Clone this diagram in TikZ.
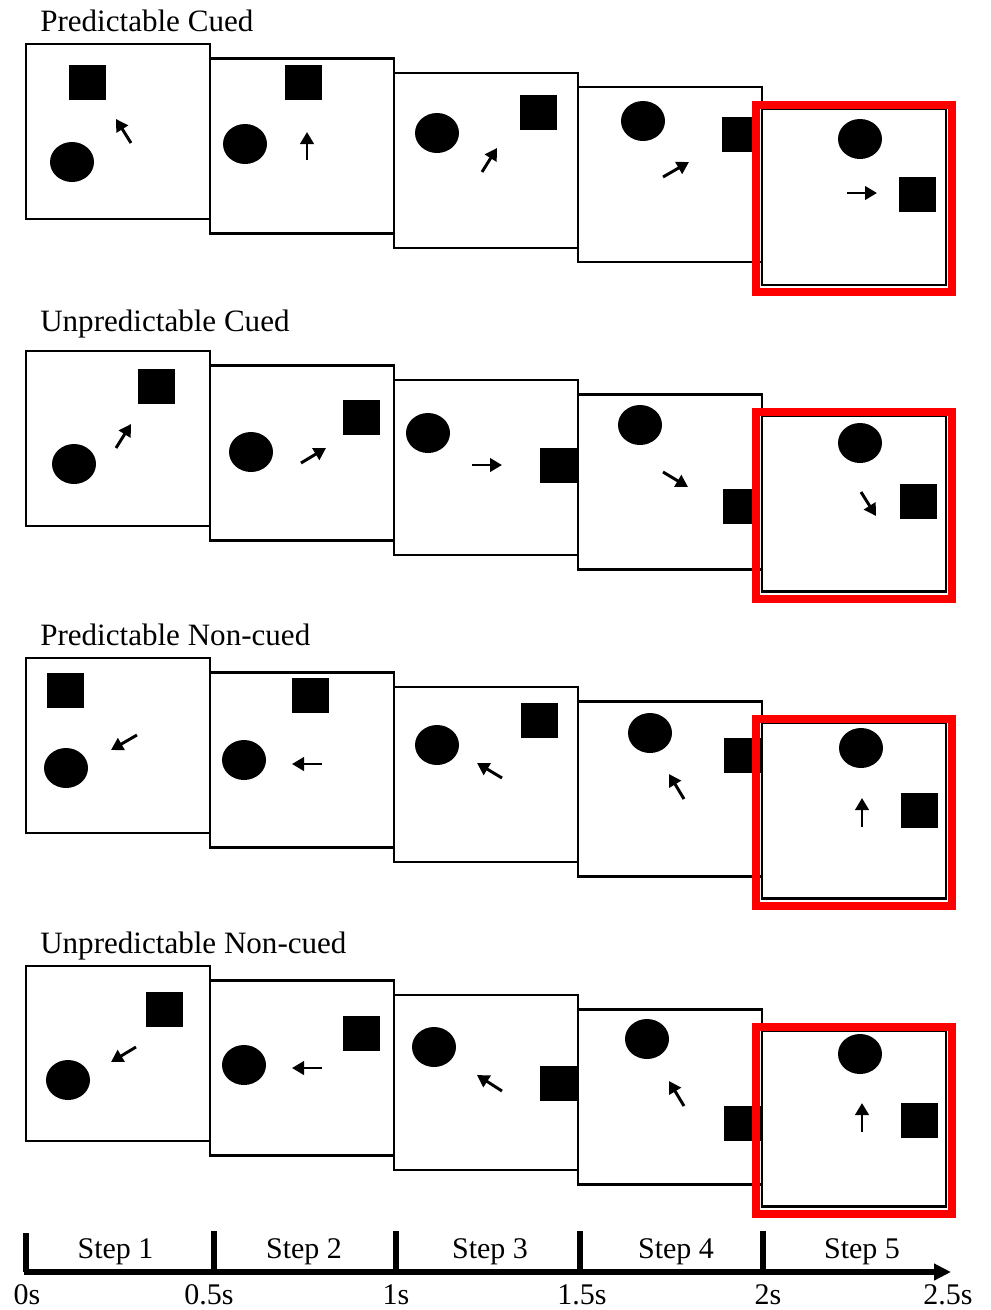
\documentclass[tikz,border=0pt]{standalone}
\usepackage{fontspec}
\setmainfont{Liberation Serif}
\usetikzlibrary{arrows.meta}

% one unit = one pixel of the 990 x 1310 layout, y running downwards
\tikzset{
  panelbox/.style={draw=black, fill=white, line width=1.65pt},
  cue/.style={line width=2.2pt, -{Triangle[length=9pt,width=10pt]}},
  focusframe/.style={draw=red, line width=6pt},
  rowtitle/.style={anchor=base west, inner sep=0pt, font=\fontsize{23.3}{28}\selectfont},
  steplabel/.style={anchor=base, inner sep=0pt, font=\fontsize{22.5}{27}\selectfont},
  timeaxis/.style={line width=4.5pt},
  timetick/.style={line width=3.8pt},
}

% a stimulus screen with its top-left corner at (#1,#2)
\newcommand\stimpanel[2]{\draw[panelbox] (#1,#2) rectangle ++(184,175);}
% the last, highlighted screen with its red frame
\newcommand\stimlast[1]{%
  \draw[panelbox] (762,#1) rectangle ++(184,176);
  \draw[focusframe] (756,#1-4) rectangle (952,#1+183);}
% black disc centred at (#1,#2)
\newcommand\stimdisc[2]{\fill (#1,#2) ellipse [x radius=16.5pt, y radius=15pt];}
% black square with its top-left corner at (#1,#2)
\newcommand\stimsquare[2]{\fill (#1,#2) rectangle ++(36.5,35);}
% movement cue from (#1,#2) to (#3,#4)
\newcommand\stimcue[4]{\draw[cue] (#1,#2) -- (#3,#4);}

\begin{document}
\begin{tikzpicture}[x=0.75pt, y=-0.75pt]
\useasboundingbox[fill=white] (0,0) rectangle (990,1310);

% ---------------- Predictable Cued ----------------
\node[rowtitle] (title1) at (40,31) {Predictable Cued};
\stimpanel{26}{44}
\stimsquare{69}{65} \stimdisc{72}{162} \stimcue{131}{143}{116}{119}
\stimpanel{210}{58.5}
\stimsquare{285}{65} \stimdisc{245}{144} \stimcue{307}{160}{307}{132}
\stimpanel{394}{73}
\stimsquare{520}{95} \stimdisc{437}{133} \stimcue{482}{172}{497}{148}
\stimpanel{578}{87}
\stimsquare{722}{117} \stimdisc{643}{121} \stimcue{663}{177}{689}{162}
\stimlast{109}
\stimsquare{899}{177} \stimdisc{860}{139} \stimcue{847}{193}{877}{193}

% ---------------- Unpredictable Cued ----------------
\node[rowtitle] (title2) at (40,331) {Unpredictable Cued};
\stimpanel{26}{351}
\stimsquare{138}{369} \stimdisc{74}{464} \stimcue{116}{448}{131}{424}
\stimpanel{210}{365.5}
\stimsquare{343}{400} \stimdisc{251}{452} \stimcue{301}{463}{326}{448}
\stimpanel{394}{380}
\stimsquare{540}{448} \stimdisc{428}{433} \stimcue{472}{465}{502}{465}
\stimpanel{578}{394.5}
\stimsquare{723}{489} \stimdisc{640}{425} \stimcue{663}{472}{688}{487}
\stimlast{415.5}
\stimsquare{900}{484} \stimdisc{860}{443} \stimcue{861}{492}{876}{516}

% ---------------- Predictable Non-cued ----------------
\node[rowtitle] (title3) at (40,645) {Predictable Non-cued};
\stimpanel{26}{658}
\stimsquare{47}{673} \stimdisc{66}{768} \stimcue{137}{735}{111}{750}
\stimpanel{210}{672.5}
\stimsquare{292}{678} \stimdisc{244}{760} \stimcue{322}{764}{292}{764}
\stimpanel{394}{687}
\stimsquare{521}{703} \stimdisc{437}{745} \stimcue{502}{778}{477}{763}
\stimpanel{578}{701.5}
\stimsquare{724}{738} \stimdisc{650}{733} \stimcue{684}{799}{669}{774}
\stimlast{722.5}
\stimsquare{901}{793} \stimdisc{861}{748} \stimcue{862}{827}{862}{798}

% ---------------- Unpredictable Non-cued ----------------
\node[rowtitle] (title4) at (40,953) {Unpredictable Non-cued};
\stimpanel{26}{966}
\stimsquare{146}{992} \stimdisc{68}{1080} \stimcue{136}{1047}{111}{1062}
\stimpanel{210}{980.5}
\stimsquare{343}{1016} \stimdisc{244}{1065} \stimcue{322}{1068}{292}{1068}
\stimpanel{394}{995}
\stimsquare{540}{1066} \stimdisc{434}{1047} \stimcue{502}{1091}{477}{1075}
\stimpanel{578}{1009.5}
\stimsquare{724}{1106} \stimdisc{647}{1039} \stimcue{684}{1106}{669}{1081}
\stimlast{1030.5}
\stimsquare{901}{1103} \stimdisc{860}{1054} \stimcue{862}{1132}{862}{1103}

% ---------------- time line ----------------
\coordinate (axisstart) at (23.5,1272);
\coordinate (axisend) at (951,1272);
\draw[timeaxis, -{Triangle[length=12.75pt,width=12pt]}] (axisstart) -- (axisend);
\draw[timetick] (26,1233) -- (26,1272);
\foreach \x in {214,396,580,763}
  \draw[timetick] (\x,1231) -- (\x,1272);

\node[steplabel] (step1) at (115.5,1258) {Step 1};
\node[steplabel] (step2) at (304,1258) {Step 2};
\node[steplabel] (step3) at (490,1258) {Step 3};
\node[steplabel] (step4) at (676,1258) {Step 4};
\node[steplabel] (step5) at (862,1258) {Step 5};

\node[steplabel] (time0) at (27,1304) {0s};
\node[steplabel] (time1) at (209,1304) {0.5s};
\node[steplabel] (time2) at (396,1304) {1s};
\node[steplabel] (time3) at (582,1304) {1.5s};
\node[steplabel] (time4) at (768,1304) {2s};
\node[steplabel] (time5) at (948,1304) {2.5s};
\end{tikzpicture}
\end{document}
